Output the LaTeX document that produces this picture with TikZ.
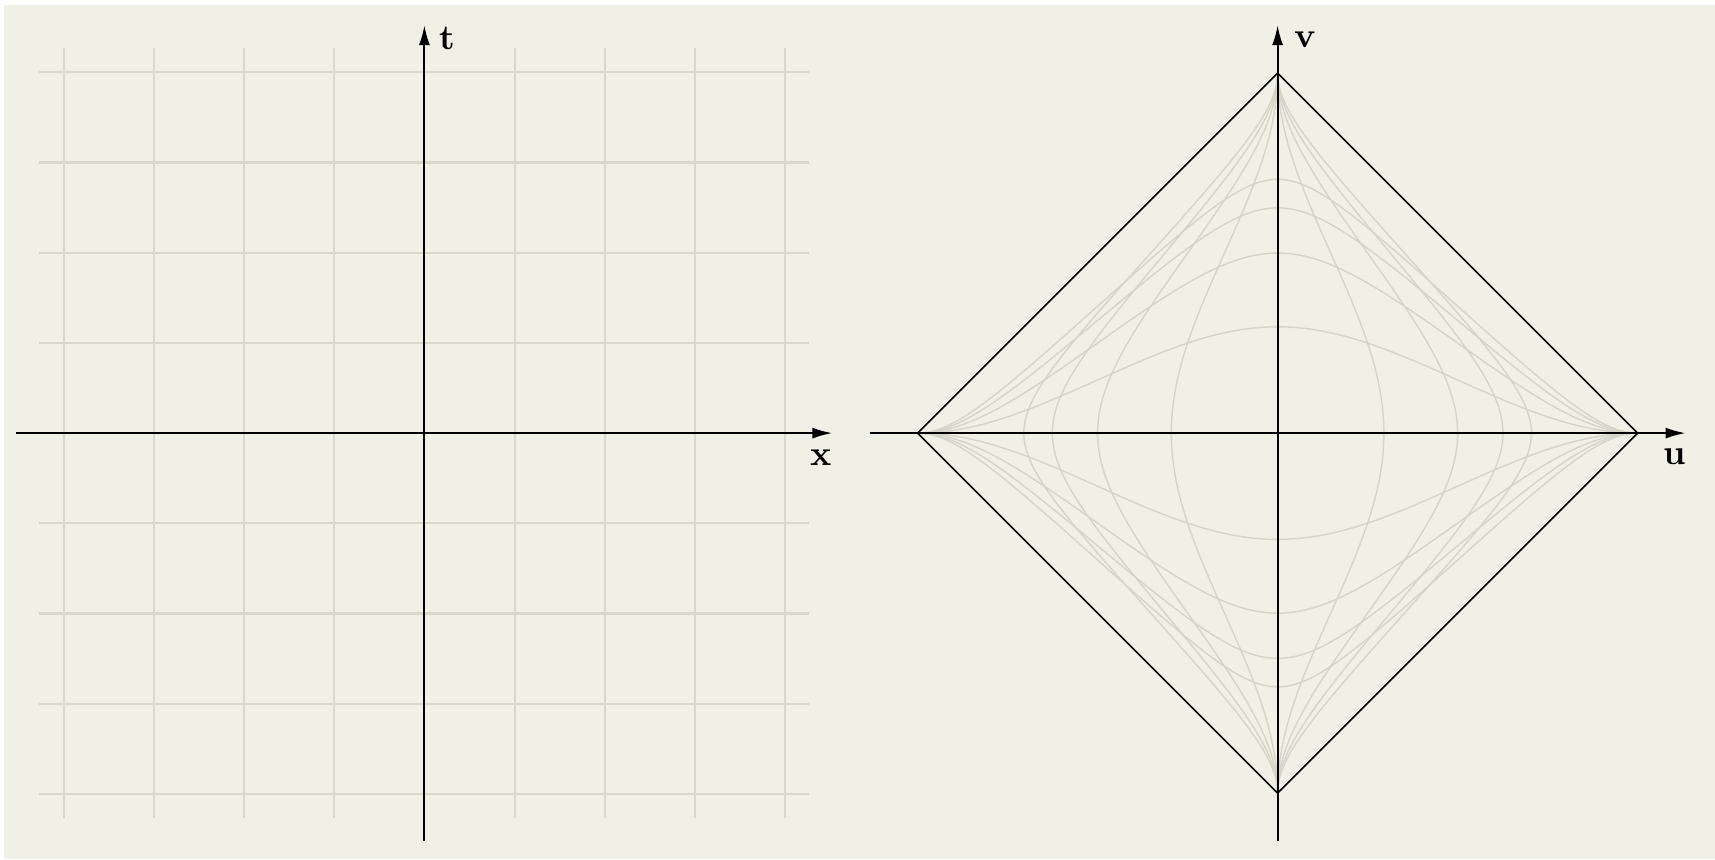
\documentclass[tikz,border=0pt]{standalone}
\usepackage{tikz}
\usetikzlibrary{arrows.meta,positioning,calc}
\definecolor{paper}{HTML}{F0F0E6}
\definecolor{rule}{HTML}{D8D8CC}
\definecolor{faint}{HTML}{D4D4C8}
\tikzset{
  axis/.style={draw=black, line width=0.6pt, -{Latex[length=2mm,width=1.1mm]}},
  gridline/.style={draw=rule, line width=0.6pt},
  curve/.style={draw=faint, line width=0.4pt},
  edge/.style={draw=black, line width=0.45pt, line join=miter},
  lbl/.style={font=\bfseries, inner sep=0pt}
}

\begin{document}
\begin{tikzpicture}
 \fill[white] (0,0) rectangle (17.15,8.59);
 \fill[paper] (0.04,0) rectangle (17.15,8.54);
 \useasboundingbox (0,0) rectangle (17.15,8.59);
 \coordinate (mink) at (4.244,4.259);
 \coordinate (pen) at (12.776,4.259);
 % flat grid, steps of 1/2
 \begin{scope}[shift={(mink)}]
  \foreach \k in {-4,...,4}{
   \draw[gridline] ({0.902*\k},-3.85) -- ({0.902*\k},3.85);
   \draw[gridline] (-3.85,{0.902*\k}) -- (3.85,{0.902*\k});
  }
  \coordinate (xl) at (-4.08,0); \coordinate (xr) at (4.08,0);
  \coordinate (tb) at (0,-4.08); \coordinate (tt) at (0,4.08);
 \end{scope}
 \draw[axis] (xl) -- (xr);
 \draw[axis] (tb) -- (tt);
 \node[lbl] (xlbl) at ($(xr)+(-0.115,-0.25)$) {x};
 \node[lbl] (tlbl) at ($(tt)+(0.233,-0.13)$) {t};
 % compactified picture: 1 degree = 0.02cm
 \begin{scope}[shift={(pen)}]
  \foreach \c in {-2,-1.5,-1,-0.5,0.5,1,1.5,2}{
   \draw[curve] plot[domain=-89.9:89.9, samples=181, variable=\p]
     ({0.02*(\p+atan(tan(\p)-2*(\c)))},{0.02*(\p-atan(tan(\p)-2*(\c)))});
   \draw[curve] plot[domain=-89.9:89.9, samples=181, variable=\p]
     ({0.02*(\p+atan(2*(\c)-tan(\p)))},{0.02*(\p-atan(2*(\c)-tan(\p)))});
  }
  \coordinate (itop) at (0,3.6); \coordinate (ibot) at (0,-3.6);
  \coordinate (ileft) at (-3.6,0); \coordinate (iright) at (3.6,0);
  \coordinate (ul) at (-4.08,0); \coordinate (ur) at (4.08,0);
  \coordinate (vb) at (0,-4.08); \coordinate (vt) at (0,4.08);
 \end{scope}
 \draw[edge] (itop) -- (iright) -- (ibot) -- (ileft) -- cycle;
 \draw[axis] (ul) -- (ur);
 \draw[axis] (vb) -- (vt);
 \node[lbl] (ulbl) at ($(ur)+(-0.105,-0.237)$) {u};
 \node[lbl] (vlbl) at ($(vt)+(0.274,-0.15)$) {v};
\end{tikzpicture}
\end{document}
